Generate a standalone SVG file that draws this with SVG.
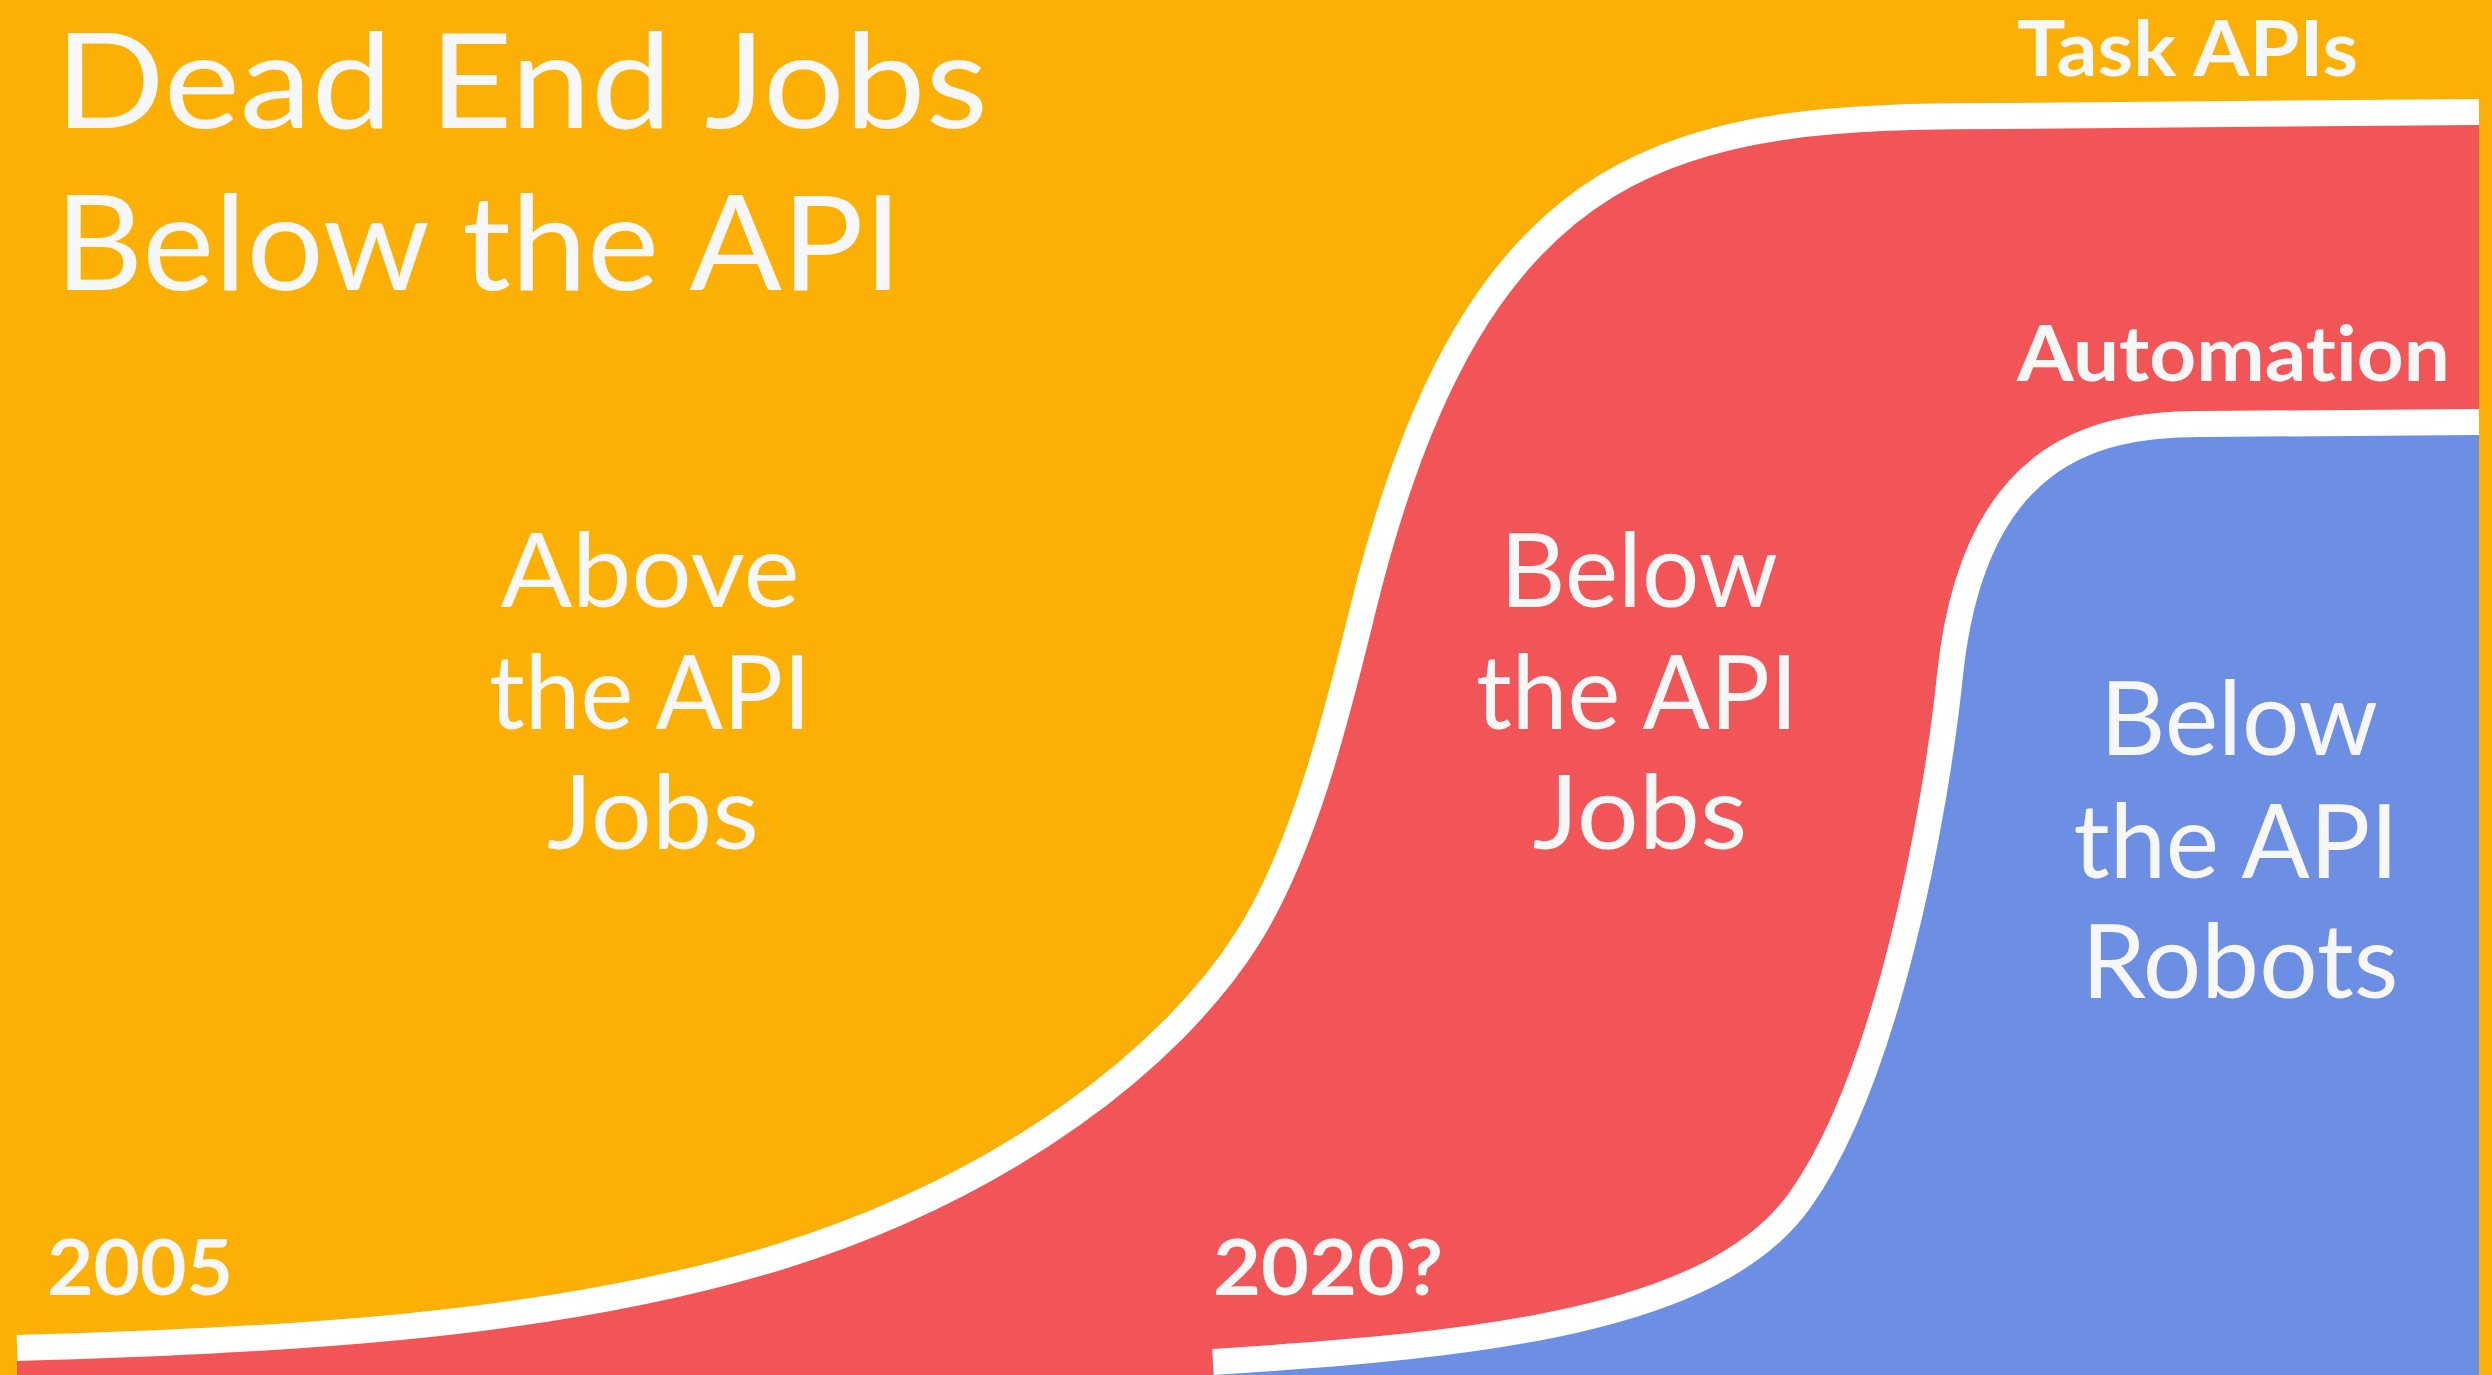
<svg xmlns="http://www.w3.org/2000/svg" width="2492" height="1375" viewBox="0 0 2492 1375">
<style>
.t{fill:#F7F7F7;font-family:Lato,"Noto Sans","Liberation Sans",sans-serif;font-variant-ligatures:none;font-feature-settings:"liga" 0,"clig" 0;}
.title{font-size:132px;font-weight:400;}
.lbl{font-size:103px;font-weight:400;text-anchor:middle;}
.sm{font-size:77px;font-weight:700;}
.edge{fill:none;stroke:#FFFFFF;stroke-width:26;stroke-linecap:butt;stroke-linejoin:round;}
</style>
<rect id="bg" x="0" y="0" width="2492" height="1375" fill="#FCAF05"/>
<g id="regions">
<path id="red" fill="#F25557" d="M17 1348 C267 1340 540 1330 779 1257 C1008 1186 1172 1057 1247 939 C1306 846 1339 706 1363 609 C1478 138 1685 116 2000 116 L2479 112 L2479 1375 L17 1375 Z"/>
<path id="blue" fill="#6C8FE4" d="M1213 1362 C1480 1345 1714 1321 1800 1200 C1886 1079 1935 820 1950 675 C1973 456 2090 424 2200 424 L2479 422 L2479 1375 L1213 1375 Z"/>
</g>
<g id="connectors">
<path id="task-apis-line" class="edge" d="M17 1348 C267 1340 540 1330 779 1257 C1008 1186 1172 1057 1247 939 C1306 846 1339 706 1363 609 C1478 138 1685 116 2000 116 L2479 112"/>
<path id="automation-line" class="edge" stroke-width="28" d="M1213 1362 C1480 1345 1714 1321 1800 1200 C1886 1079 1935 820 1950 675 C1973 456 2090 424 2200 424 L2479 422"/>
</g>
<g id="title">
<text class="t title" x="55" y="128" textLength="933" lengthAdjust="spacingAndGlyphs">Dead End Jobs</text>
<text class="t title" x="55" y="290" textLength="847" lengthAdjust="spacingAndGlyphs">Below the API</text>
</g>
<g id="above-jobs">
<text class="t lbl" x="650" y="607" textLength="299" lengthAdjust="spacingAndGlyphs">Above</text>
<text class="t lbl" x="650" y="729" textLength="322" lengthAdjust="spacingAndGlyphs">the API</text>
<text class="t lbl" x="653" y="849" textLength="212" lengthAdjust="spacingAndGlyphs">Jobs</text>
</g>
<g id="below-jobs">
<text class="t lbl" x="1639" y="607" textLength="278" lengthAdjust="spacingAndGlyphs">Below</text>
<text class="t lbl" x="1637" y="729" textLength="322" lengthAdjust="spacingAndGlyphs">the API</text>
<text class="t lbl" x="1640" y="849" textLength="215" lengthAdjust="spacingAndGlyphs">Jobs</text>
</g>
<g id="below-robots">
<text class="t lbl" x="2239" y="755" textLength="278" lengthAdjust="spacingAndGlyphs">Below</text>
<text class="t lbl" x="2236" y="878" textLength="325" lengthAdjust="spacingAndGlyphs">the API</text>
<text class="t lbl" x="2240" y="998" textLength="317" lengthAdjust="spacingAndGlyphs">Robots</text>
</g>
<g id="labels">
<text id="task-apis" class="t sm" x="2017" y="76" textLength="341" lengthAdjust="spacingAndGlyphs">Task APIs</text>
<text id="automation" class="t sm" x="2017" y="381" textLength="433" lengthAdjust="spacingAndGlyphs">Automation</text>
<text id="y2005" class="t sm" x="47" y="1295" textLength="186" lengthAdjust="spacingAndGlyphs">2005</text>
<text id="y2020" class="t sm" x="1213" y="1295" textLength="230" lengthAdjust="spacingAndGlyphs">2020?</text>
</g>
</svg>
